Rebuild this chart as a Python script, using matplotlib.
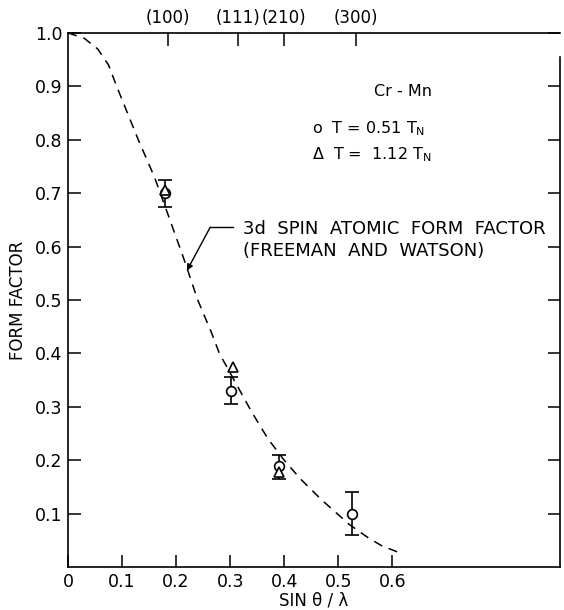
"""Cr-Mn magnetic form factor vs sin(theta)/lambda."""

import matplotlib

matplotlib.use("Agg")
import matplotlib.pyplot as plt

# values
curve_x = [0.0, 0.03, 0.055, 0.075, 0.09, 0.11, 0.13, 0.16, 0.185, 0.215,
           0.24, 0.265, 0.28, 0.31, 0.34, 0.37, 0.40, 0.43, 0.47, 0.52,
           0.555, 0.58, 0.61]
curve_y = [1.0, 0.99, 0.97, 0.94, 0.90, 0.85, 0.80, 0.73, 0.66, 0.575,
           0.50, 0.44, 0.40, 0.345, 0.29, 0.24, 0.20, 0.165, 0.125, 0.08,
           0.055, 0.04, 0.028]

circle_x = [0.18, 0.302, 0.39, 0.525]
circle_y = [0.70, 0.33, 0.19, 0.10]
circle_lo = [0.675, 0.305, 0.165, 0.06]
circle_hi = [0.725, 0.355, 0.21, 0.14]

triangle_x = [0.18, 0.305, 0.39]
triangle_y = [0.705, 0.375, 0.178]

reflections = ["(100)", "(111)", "(210)", "(300)"]
reflection_x = [0.185, 0.315, 0.40, 0.533]

x_ticks = [0, 0.1, 0.2, 0.3, 0.4, 0.5, 0.6]
x_labels = ["0", "0.1", "0.2", "0.3", "0.4", "0.5", "0.6"]
y_ticks = [0.1, 0.2, 0.3, 0.4, 0.5, 0.6, 0.7, 0.8, 0.9, 1.0]
y_labels = ["0.1", "0.2", "0.3", "0.4", "0.5", "0.6", "0.7", "0.8", "0.9", "1.0"]

plt.rcParams["font.family"] = ["DejaVu Sans"]
plt.rcParams["mathtext.fontset"] = "dejavusans"

fig = plt.figure(figsize=(5.64, 6.10), dpi=100)
ax = fig.add_axes([0.1206, 0.0705, 0.872, 0.8755])
ax.set_xlim(0, 0.91)
ax.set_ylim(0, 1.0)

ax.plot(curve_x, curve_y, color="black", lw=1.1, ls=(0, (6, 4.5)))

err_lo = [y - lo for y, lo in zip(circle_y, circle_lo)]
err_hi = [hi - y for y, hi in zip(circle_y, circle_hi)]
ax.errorbar(circle_x, circle_y, yerr=[err_lo, err_hi], fmt="o", ms=7,
            mfc="white", mec="black", mew=1.2, ecolor="black", elinewidth=1.2,
            capsize=5, capthick=1.2, zorder=3)
ax.plot(triangle_x, triangle_y, "^", ms=7, mfc="white", mec="black",
        mew=1.2, ls="none", zorder=4)

# annotation with leader line
ax.plot([0.305, 0.263], [0.636, 0.636], color="black", lw=1.0)
ax.annotate("", xy=(0.22, 0.555), xytext=(0.263, 0.636),
            arrowprops=dict(arrowstyle="-|>", color="black", lw=1.0,
                            mutation_scale=9, shrinkA=0, shrinkB=0))
ax.text(0.324, 0.632, "3d  SPIN  ATOMIC  FORM  FACTOR", fontsize=13,
        va="center", ha="left")
ax.text(0.324, 0.592, "(FREEMAN  AND  WATSON)", fontsize=13,
        va="center", ha="left")

ax.text(0.619, 0.891, "Cr - Mn", fontsize=11.5, ha="center", va="center")
ax.text(0.452, 0.820, "o  T = 0.51 T$_{\\rm N}$", fontsize=11.5,
        ha="left", va="center")
ax.text(0.452, 0.773, "\u0394  T =  1.12 T$_{\\rm N}$", fontsize=11.5,
        ha="left", va="center")

ax.set_xticks(x_ticks)
ax.set_xticklabels(x_labels, fontsize=12.5)
ax.set_yticks(y_ticks)
ax.set_yticklabels(y_labels, fontsize=12.5)
ax.tick_params(direction="in", length=9, width=1.1, right=True, pad=4,
               colors="black")
ax.set_xlabel("SIN \u03b8 / \u03bb", fontsize=12, labelpad=1)
ax.set_ylabel("FORM FACTOR", fontsize=12, labelpad=6)

for side in ["left", "bottom", "top", "right"]:
    ax.spines[side].set_linewidth(1.2)
ax.spines["right"].set_bounds(0, 0.955)

top = ax.twiny()
top.set_xlim(ax.get_xlim())
top.set_xticks(reflection_x)
top.set_xticklabels(reflections, fontsize=12)
top.tick_params(direction="in", length=9, width=1.1, pad=4)
for side in ["left", "bottom", "top", "right"]:
    top.spines[side].set_visible(False)

fig.savefig("out.png", dpi=100, facecolor="white")
